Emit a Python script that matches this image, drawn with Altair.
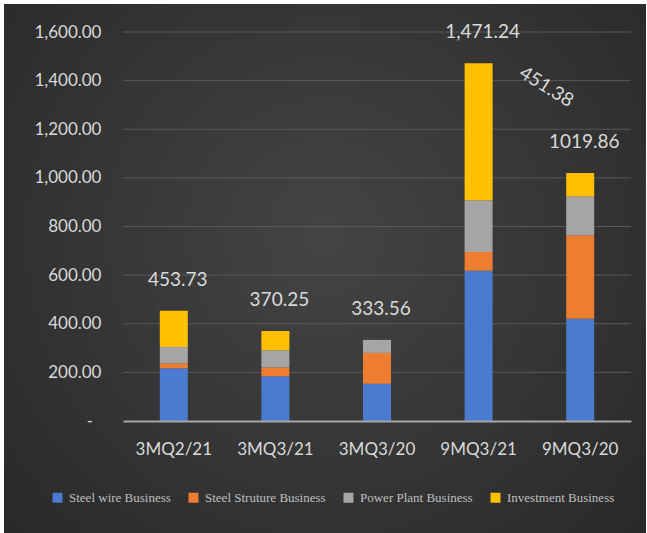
import altair as alt
import pandas as pd

categories = ["3MQ2/21", "3MQ3/21", "3MQ3/20", "9MQ3/21", "9MQ3/20"]
series = ["Steel wire Business", "Steel Struture Business", "Power Plant Business", "Investment Business"]
steel_wire = [217, 184, 153, 618, 421]
steel_structure = [20, 36, 127, 77, 343]
power_plant = [67, 71, 53.56, 213, 160]
investment = [149.73, 79.25, 0, 563.24, 95.86]
totals = [453.73, 370.25, 333.56, 1471.24, 1019.86]
total_labels = ["453.73", "370.25", "333.56", "1,471.24", "1019.86"]
y_ticks = [0, 200, 400, 600, 800, 1000, 1200, 1400, 1600]
colors = ["#4a7bd0", "#ed7d31", "#a5a5a5", "#ffc000"]

rows = []
for i, c in enumerate(categories):
    for j, (s, vals) in enumerate(zip(series, [steel_wire, steel_structure, power_plant, investment])):
        rows.append({"cat": c, "series": s, "order": j, "value": vals[i]})
df = pd.DataFrame(rows)
tot = pd.DataFrame({"cat": categories, "total": totals, "label": total_labels})
diff = pd.DataFrame({"cat": [categories[3]], "total": [totals[3]],
                     "label": [f"{totals[3] - totals[4]:.2f}"]})
grid = pd.DataFrame({"v": y_ticks[1:]})

FONT = "Lato"
y_scale = alt.Scale(domain=[0, 1600], nice=False)

bg = alt.Chart(pd.DataFrame({"a": [0]})).mark_rect(
    fill={"gradient": "radial",
          "stops": [{"offset": 0, "color": "#444444"}, {"offset": 1, "color": "#262626"}],
          "x1": 0.5, "y1": 0.45, "r1": 0, "x2": 0.5, "y2": 0.45, "r2": 0.75},
).encode(x=alt.value(-119), x2=alt.value(523), y=alt.value(-28), y2=alt.value(501))

gridlines = alt.Chart(grid).mark_rule(color="#585858", strokeWidth=1).encode(
    y=alt.Y("v:Q", scale=y_scale), x=alt.value(0), x2=alt.value(508))

bars = alt.Chart(df).mark_bar(size=28).encode(
    x=alt.X("cat:N", sort=categories, title=None,
            axis=alt.Axis(labelAngle=0, labelFont=FONT, labelFontSize=17, labelColor="#d9d9d9",
                          labelPadding=20, ticks=False, domainColor="#a6a6a6", domainWidth=2,
                          grid=False, zindex=1)),
    y=alt.Y("value:Q", scale=y_scale, title=None, stack="zero",
            axis=alt.Axis(values=y_ticks,
                          labelExpr="datum.value == 0 ? '-\u2002\u200b' : format(datum.value, ',.2f')",
                          labelFont=FONT, labelFontSize=17, labelColor="#d9d9d9", labelPadding=22,
                          domain=False, ticks=False, grid=False, zindex=1)),
    color=alt.Color("series:N", scale=alt.Scale(domain=series, range=colors), title=None,
                    legend=alt.Legend(orient="none", legendX=-72, legendY=459, direction="horizontal",
                                      symbolType="square", symbolSize=100, symbolStrokeWidth=0,
                                      labelFont="Liberation Serif", labelFontSize=13,
                                      labelColor="#bfbfbf", columnPadding=16, labelOffset=5,
                                      labelLimit=300)),
    order=alt.Order("order:Q", sort="ascending"),
)

labels = alt.Chart(tot).mark_text(font=FONT, fontSize=19, color="#d9d9d9", dy=-31, dx=4).encode(
    x=alt.X("cat:N", sort=categories), y=alt.Y("total:Q", scale=y_scale), text="label:N")

diff_label = alt.Chart(diff).mark_text(font=FONT, fontSize=19, color="#d9d9d9", angle=32,
                                       dx=70, dy=-16).encode(
    x=alt.X("cat:N", sort=categories), y=alt.Y("total:Q", scale=y_scale), text="label:N")

chart = alt.layer(bg, gridlines, bars, labels, diff_label).properties(
    width=508, height=389, autosize="none",
    padding={"left": 123, "top": 32, "right": 16, "bottom": 112},
    background="#ffffff",
).configure_view(stroke=None)

chart.save("out.html", embed_options={"renderer": "svg", "actions": False})
